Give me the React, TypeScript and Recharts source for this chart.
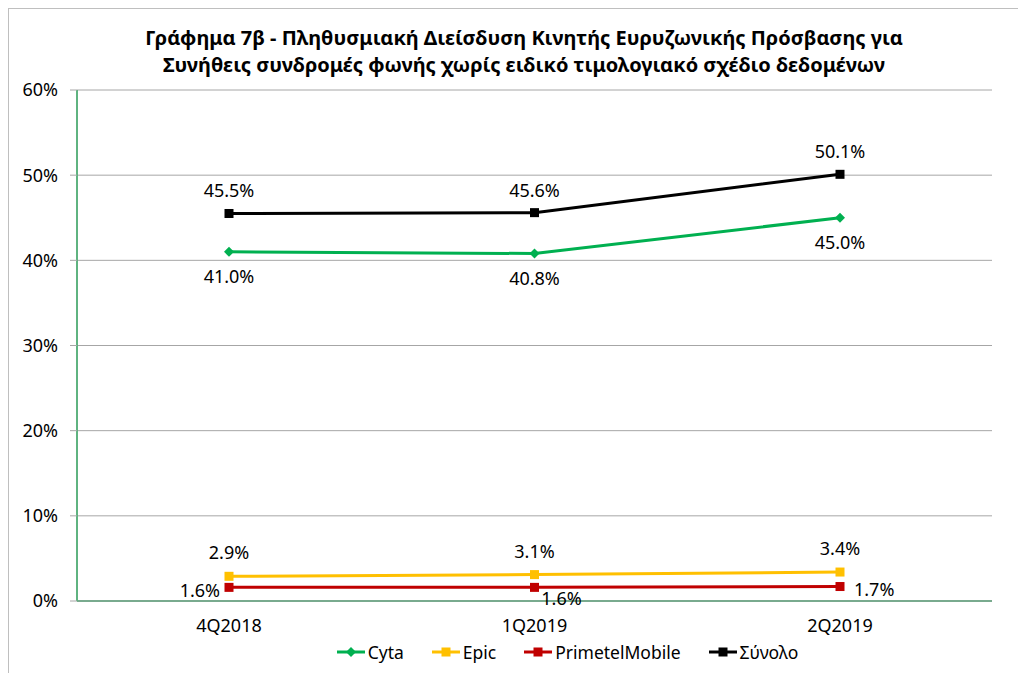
import {CartesianGrid, LabelList, Legend, Line, LineChart, XAxis, YAxis} from "recharts";

const quarters = ["4Q2018", "1Q2019", "2Q2019"];
const cyta = [0.41, 0.408, 0.45];
const epic = [0.029, 0.031, 0.034];
const primetel = [0.016, 0.016, 0.017];
const total = [0.455, 0.456, 0.501];
const yTicks = [0, 0.1, 0.2, 0.3, 0.4, 0.5, 0.6];

const titleLines = [
    "Γράφημα 7β - Πληθυσμιακή Διείσδυση Κινητής Ευρυζωνικής Πρόσβασης για",
    "Συνήθεις συνδρομές φωνής χωρίς ειδικό τιμολογιακό σχέδιο δεδομένων",
];

const data = quarters.map((q, i) => ({
    q,
    cyta: cyta[i],
    epic: epic[i],
    primetel: primetel[i],
    total: total[i],
}));

const series = [
    {key: "cyta", name: "Cyta", color: "#00b050", marker: "diamond"},
    {key: "epic", name: "Epic", color: "#ffc000", marker: "square"},
    {key: "primetel", name: "PrimetelMobile", color: "#c00000", marker: "square"},
    {key: "total", name: "Σύνολο", color: "#000000", marker: "square"},
];

const FONT = "'Noto Sans', sans-serif";
const pct = (v: number) => (v * 100).toFixed(1) + "%";

const Marker = ({cx, cy, color, type}: any) => {
    if (cx == null || cy == null) return null;
    if (type === "diamond") {
        const r = 5;
        return <polygon points={`${cx},${cy - r} ${cx + r},${cy} ${cx},${cy + r} ${cx - r},${cy}`} fill={color} />;
    }
    return <rect x={cx - 4.5} y={cy - 4.5} width={9} height={9} fill={color} />;
};

// label offsets (dx, dy, anchor) per series and point
const labelPos: any = {
    cyta: [[0, 31, "middle"], [0, 31, "middle"], [0, 31, "middle"]],
    epic: [[0, -17, "middle"], [0, -17, "middle"], [0, -17, "middle"]],
    primetel: [[-9, 10, "end"], [27, 18, "middle"], [14, 9, "start"]],
    total: [[0, -16, "middle"], [0, -16, "middle"], [0, -16, "middle"]],
};

const makeLabel = (key: string) => (props: any) => {
    const {x, y, value, index} = props;
    const [dx, dy, anchor] = labelPos[key][index];
    return (
        <text x={x + dx} y={y + dy} textAnchor={anchor} fontSize={18} fontFamily={FONT} fill="#000">
            {pct(value)}
        </text>
    );
};

const LegendContent = () => (
    <div style={{display: "flex", justifyContent: "center", gap: 27, fontFamily: FONT, fontSize: 17.5, marginLeft: 100}}>
        {series.map((s) => (
            <div key={s.key} style={{display: "flex", alignItems: "center"}}>
                <svg width={30} height={12}>
                    <line x1={1} y1={6} x2={29} y2={6} stroke={s.color} strokeWidth={3} />
                    <Marker cx={15} cy={6} color={s.color} type={s.marker} />
                </svg>
                <span style={{marginLeft: 2}}>{s.name}</span>
            </div>
        ))}
    </div>
);

export default function App() {
    return (
        <div style={{position: "relative", width: 1018, height: 665, borderLeft: "1px solid #bfbfbf", borderTop: "1px solid #bfbfbf", boxSizing: "border-box"}}>
            <div style={{position: "absolute", top: 15, left: 0, width: 1030, textAlign: "center", fontFamily: FONT, fontWeight: "bold", fontSize: 20, lineHeight: "27px"}}>
                {titleLines.map((t) => <div key={t}>{t}</div>)}
            </div>
            <div style={{position: "absolute", top: -1, left: -1}}>
                <LineChart width={1018} height={665} data={data} margin={{top: 82, right: 34, bottom: 42, left: 0}}>
                    <CartesianGrid vertical={false} stroke="#a6a6a6" strokeWidth={1} />
                    <XAxis dataKey="q" padding={{left: 152, right: 152}} height={30} axisLine={{stroke: "#79aa8e", strokeWidth: 2}} tickLine={false}
                           tick={{fill: "#000", fontSize: 18, fontFamily: FONT}} tickMargin={12} />
                    <XAxis xAxisId="top" dataKey="q" orientation="top" height={0} tick={false} tickLine={false} axisLine={{stroke: "#3cba6e", strokeWidth: 2}} />
                    <YAxis domain={[0, 0.6]} ticks={yTicks} width={69} tickFormatter={(v: number) => Math.round(v * 100) + "%"}
                           axisLine={{stroke: "#5fb380", strokeWidth: 2}} tickLine={{stroke: "#a6a6a6"}} tickSize={7} tickMargin={12}
                           tick={{fill: "#000", fontSize: 18, fontFamily: FONT}} />
                    <YAxis yAxisId="right" orientation="right" width={0} tick={false} tickLine={false} axisLine={{stroke: "#3cba6e", strokeWidth: 2}} />
                    {series.map((s) => (
                        <Line key={s.key} dataKey={s.key} name={s.name} stroke={s.color} strokeWidth={3} isAnimationActive={false}
                              dot={(p: any) => <Marker key={`${s.key}-${p.index}`} cx={p.cx} cy={p.cy} color={s.color} type={s.marker} />}
                              activeDot={false}>
                            <LabelList dataKey={s.key} content={makeLabel(s.key)} />
                        </Line>
                    ))}
                    <Legend layout="horizontal" verticalAlign="middle" wrapperStyle={{top: 632, left: 0, width: 1018}} content={<LegendContent />} />
                </LineChart>
            </div>
        </div>
    );
}
